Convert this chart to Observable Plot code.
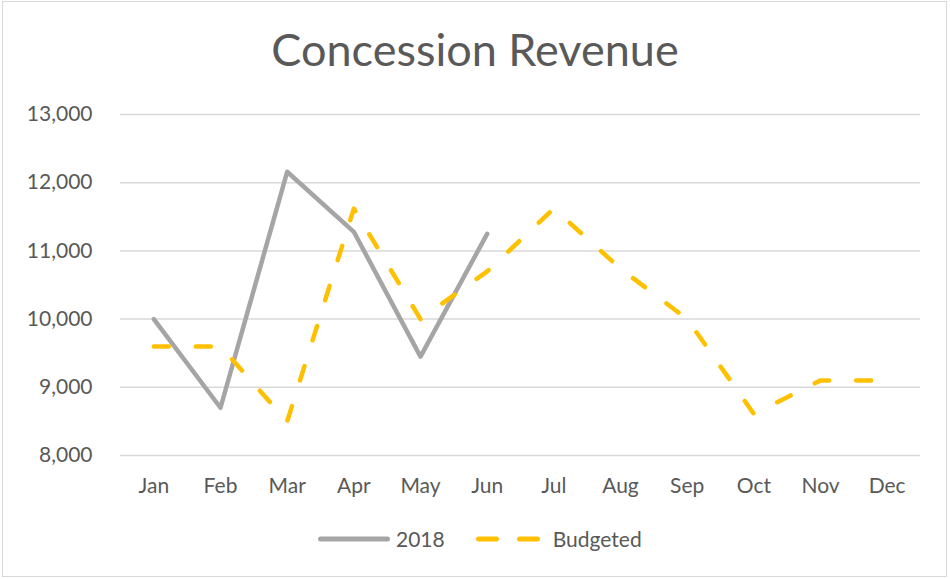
<!DOCTYPE html>
<html>
<head>
<meta charset="utf-8">
<script src="https://cdn.jsdelivr.net/npm/d3@7"></script>
<script src="https://cdn.jsdelivr.net/npm/@observablehq/plot@0.6"></script>
<style>
  html, body { margin: 0; padding: 0; background: #fff; }
  #frame { position: relative; width: 950px; height: 579px; overflow: hidden; font-family: Lato, "Open Sans", sans-serif; color: #595959; }
  #border { position: absolute; left: 2px; top: 1px; width: 943px; height: 574px; border: 1.5px solid #d9d9d9; }
  #title { position: absolute; left: 0; width: 950px; top: 27px; text-align: center; font-size: 45px; line-height: 45px; color: #595959; }
  #chart { position: absolute; left: 0; top: 90px; }
  #legend { position: absolute; left: 318px; top: 528px; height: 22px; display: flex; align-items: center; font-size: 21px; line-height: 22px; color: #595959; }
  #legend svg { display: block; }
</style>
</head>
<body>
<div id="frame">
  <div id="border"></div>
  <div id="title">Concession Revenue</div>
  <div id="chart"></div>
  <div id="legend"></div>
</div>
<script>
const months = ["Jan","Feb","Mar","Apr","May","Jun","Jul","Aug","Sep","Oct","Nov","Dec"];
const actual2018 = [10000, 8700, 12160, 11280, 9450, 11250];
const budgeted = [9600, 9600, 8500, 11620, 10000, 10700, 11620, 10740, 10000, 8610, 9100, 9100];
const yTicks = [8000, 9000, 10000, 11000, 12000, 13000];
const seriesNames = ["2018", "Budgeted"];
const seriesColors = ["#a5a5a5", "#ffc000"];

const data2018 = actual2018.map((v, i) => ({month: months[i], value: v}));
const dataBudget = budgeted.map((v, i) => ({month: months[i], value: v}));

const plot = Plot.plot({
  width: 950,
  height: 420,
  marginTop: 24,
  marginBottom: 55,
  marginLeft: 120,
  marginRight: 30,
  style: {fontFamily: "Lato, 'Open Sans', sans-serif", fontSize: "21px", color: "#595959", background: "transparent"},
  x: {type: "point", domain: months, padding: 0.5, round: false},
  y: {domain: [8000, 13000]},
  marks: [
    Plot.ruleY(yTicks, {stroke: "#d9d9d9", strokeWidth: 1.5}),
    Plot.axisY({ticks: yTicks, tickFormat: d3.format(","), tickSize: 0, tickPadding: 28, label: null}),
    Plot.axisX({tickSize: 0, tickPadding: 23, label: null}),
    Plot.line(data2018, {x: "month", y: "value", stroke: seriesColors[0], strokeWidth: 4.5, strokeLinecap: "round", strokeLinejoin: "round"}),
    Plot.line(dataBudget, {x: "month", y: "value", stroke: seriesColors[1], strokeWidth: 4.5, strokeLinecap: "round", strokeLinejoin: "round", strokeDasharray: "15,27"})
  ]
});
document.getElementById("chart").appendChild(plot);

// Legend
const legend = document.getElementById("legend");
function addItem(name, color, dashed, width, gapAfterSwatch, gapAfterText) {
  const ns = "http://www.w3.org/2000/svg";
  const svg = document.createElementNS(ns, "svg");
  svg.setAttribute("width", width);
  svg.setAttribute("height", 10);
  const line = document.createElementNS(ns, "line");
  line.setAttribute("x1", 2.5);
  line.setAttribute("x2", width - 2.5);
  line.setAttribute("y1", 5);
  line.setAttribute("y2", 5);
  line.setAttribute("stroke", color);
  line.setAttribute("stroke-width", 5);
  line.setAttribute("stroke-linecap", "round");
  if (dashed) line.setAttribute("stroke-dasharray", "18,23");
  svg.appendChild(line);
  svg.style.marginRight = gapAfterSwatch + "px";
  legend.appendChild(svg);
  const span = document.createElement("span");
  span.textContent = name;
  span.style.marginRight = gapAfterText + "px";
  legend.appendChild(span);
}
addItem(seriesNames[0], seriesColors[0], false, 72, 6, 31);
addItem(seriesNames[1], seriesColors[1], true, 65, 12, 0);
</script>
</body>
</html>
